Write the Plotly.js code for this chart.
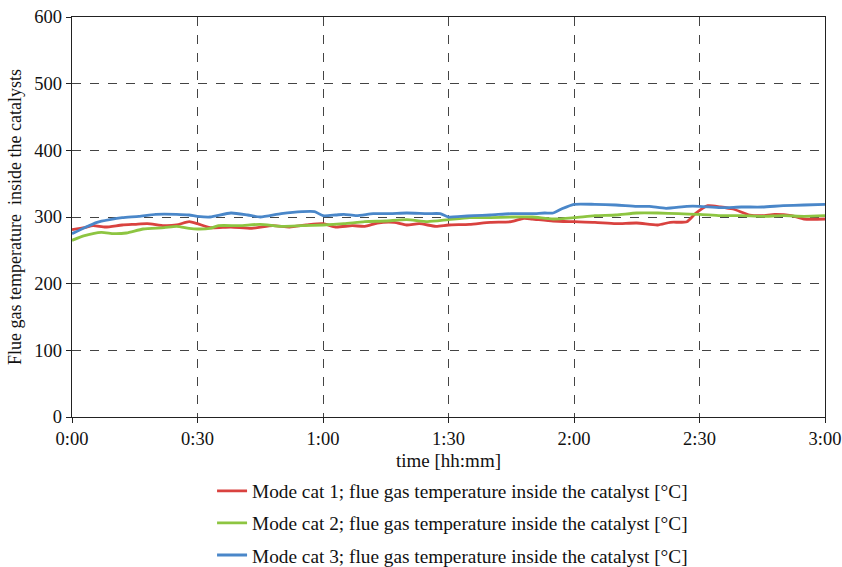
<!DOCTYPE html>
<html>
<head>
<meta charset="utf-8">
<script src="https://cdn.plot.ly/plotly-3.0.1.min.js"></script>
<style>html,body{margin:0;padding:0;background:#fff;}#chart{width:842px;height:567px;}</style>
</head>
<body>
<div id="chart"></div>
<script>
// time in minutes since start
const blueT = [0,3,6,9,12,16,20,25,28,30,33,38,42,45,50,55,58,60,63,65,68,72,76,80,85,88,90,93,96,100,105,110,113,115,117,120,125,130,135,138,142,147,150,155,160,165,170,175,180];
const blueV = [275,284,292,296,299,301,304,304,303,301,300,306,303,300,305,308,308,302,303,304,302,305,305,306,305,305,300,301,302,303,305,305,306,306,312,319,319,318,316,316,313,316,316,314,315,315,317,318,319];

const redT = [0,3,5,8,12,15,18,22,25,28,30,33,38,43,48,52,56,60,63,67,70,73,77,80,83,87,90,95,100,105,108,110,115,120,125,130,135,140,143,147,149,152,155,158,162,165,168,172,175,180];
const redV = [281,284,287,285,288,289,290,287,288,293,290,284,285,283,287,285,288,290,285,287,286,291,292,288,290,286,288,289,292,293,298,297,294,293,292,290,291,288,292,293,305,317,315,312,303,302,304,302,297,297];

const greenT = [0,3,7,10,13,17,22,25,28,30,33,35,40,45,50,55,60,65,70,75,80,85,90,95,100,105,110,115,120,125,130,135,140,145,150,155,160,165,170,175,180];
const greenV = [265,272,277,275,276,282,284,286,283,282,283,287,287,289,286,287,288,290,293,294,296,293,296,299,299,300,300,297,299,302,303,306,306,305,304,302,302,301,302,301,302];

const tickVals = [0,30,60,90,120,150,180];
const tickText = ['0:00','0:30','1:00','1:30','2:00','2:30','3:00'];
const names = [
  'Mode cat 1; flue gas temperature inside the catalyst [°C]',
  'Mode cat 2; flue gas temperature inside the catalyst [°C]',
  'Mode cat 3; flue gas temperature inside the catalyst [°C]'
];
const colors = ['#d9423f','#8dc541','#4a87c9'];

const traces = [
  {x: redT, y: redV, name: names[0], legendgroup: 'a', line: {color: colors[0], width: 2.8, shape: 'spline', smoothing: 0.6}},
  {x: greenT, y: greenV, name: names[1], legendgroup: 'b', line: {color: colors[1], width: 2.8, shape: 'spline', smoothing: 0.6}},
  {x: blueT, y: blueV, name: names[2], legendgroup: 'c', line: {color: colors[2], width: 2.8, shape: 'spline', smoothing: 0.6}}
].map(t => Object.assign({type: 'scatter', mode: 'lines'}, t));

const font = {family: '"Liberation Serif", "Times New Roman", serif', color: '#111'};

const layout = {
  width: 842, height: 567,
  margin: {l: 72, r: 17, t: 17, b: 150, autoexpand: false},
  paper_bgcolor: '#fff', plot_bgcolor: '#fff',
  font: Object.assign({size: 17}, font),
  showlegend: true,
  legend: {
    x: 0.186, xanchor: 'left', y: -0.137, yanchor: 'top',
    traceorder: 'grouped', tracegroupgap: 4,
    font: Object.assign({size: 19.3}, font),
    itemwidth: 30
  },
  xaxis: {
    range: [0, 180], tickvals: tickVals, ticktext: tickText,
    showline: true, linecolor: '#222', linewidth: 1.2, mirror: true,
    ticks: 'outside', ticklen: 5, tickcolor: '#222',
    showgrid: true, gridcolor: '#444', griddash: 'dash', gridwidth: 1,
    zeroline: false,
    tickfont: Object.assign({size: 18.5}, font),
    title: {text: 'time [hh:mm]', font: Object.assign({size: 19}, font), standoff: 5}
  },
  yaxis: {
    range: [0, 600], tickvals: [0,100,200,300,400,500,600],
    showline: true, linecolor: '#222', linewidth: 1.2, mirror: true,
    ticks: 'outside', ticklen: 5, tickcolor: '#222',
    showgrid: true, gridcolor: '#444', griddash: 'dash', gridwidth: 1,
    zeroline: false,
    tickfont: Object.assign({size: 18.5}, font),
    title: {text: 'Flue gas temperature  inside the catalysts', font: Object.assign({size: 18}, font), standoff: 8}
  }
};

Plotly.newPlot('chart', traces, layout, {displayModeBar: false, staticPlot: true});
</script>
</body>
</html>
